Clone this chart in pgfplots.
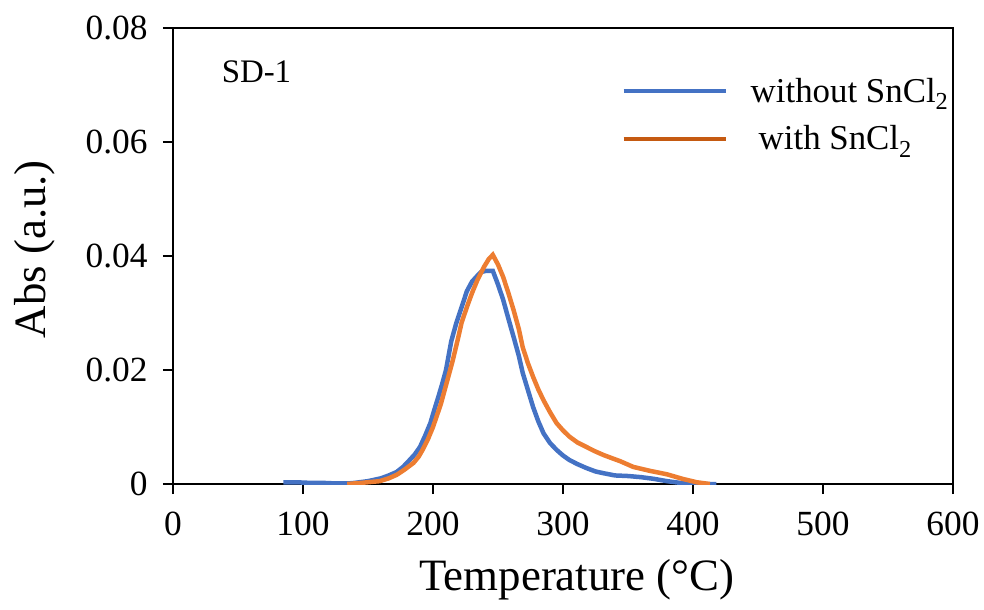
\documentclass[border=0pt]{standalone}
\usepackage{pgfplots}
\pgfplotsset{compat=1.18}
\usepackage{fontspec}
\setmainfont{Liberation Serif}
\definecolor{cblue}{HTML}{4472C4}
\definecolor{corange}{HTML}{ED7D31}
\definecolor{corangeleg}{HTML}{C55A11}
\begin{document}
\begin{tikzpicture}[x=1bp,y=1bp]
\begin{axis}[
  at={(0,0)}, anchor=south west,
  scale only axis, width=780bp, height=456bp,
  xmin=0, xmax=600, ymin=0, ymax=0.08,
  scaled y ticks=false, scaled x ticks=false,
  xtick={0,100,...,600},
  xticklabels={0,100,200,300,400,500,600},
  ytick={0,0.02,0.04,0.06,0.08},
  yticklabels={0,0.02,0.04,0.06,0.08},
  tick align=outside, major tick length=10bp,
  xtick pos=bottom, ytick pos=left,
  tick style={line width=1.6bp, black},
  axis line style={line width=1.6bp},
  ticklabel style={font=\fontsize{35.5}{40}\selectfont},
  yticklabel style={xshift=-12bp},
  xticklabel style={yshift=-14bp},
  xlabel={Temperature (°C)},
  ylabel={Abs (a.u.)},
  label style={font=\fontsize{45}{52}\selectfont},
  xlabel style={at={(axis description cs:0.518,-0.211)}, anchor=center},
  ylabel style={at={(axis description cs:-0.177,0.515)}, anchor=center},
  legend style={draw=none, fill=none, at={(rel axis cs:0.575,0.895)}, anchor=north west,
    font=\fontsize{35}{40}\selectfont, row sep=18bp, inner sep=0pt},
  legend cell align=left,
]
\addplot[cblue, line width=4.5bp, forget plot] coordinates {
(85,0.0003)(95,0.0003)(105,0.0002)(115,0.0002)(125,0.0001)(135,0.0001)(140,0.0002)
(150,0.0005)(160,0.001)(166,0.0015)(172,0.0021)(177,0.003)(182,0.0042)(186,0.0052)
(190,0.0065)(194,0.0085)(198,0.0107)(201,0.0130)(204,0.0152)(207,0.0175)(210,0.0200)
(214,0.0250)(218,0.0283)(222,0.0310)(226,0.0338)(230,0.0355)(234,0.0365)(237,0.0372)
(241,0.0374)(246,0.0374)(250,0.0350)(254,0.0323)(258,0.0290)(262,0.0258)(266,0.0225)
(269,0.0195)(273,0.0165)(277,0.0135)(281,0.0110)(285,0.0089)(290,0.0072)(295,0.0060)
(300,0.0050)(305,0.0042)(311,0.0035)(318,0.0028)(325,0.0022)(331,0.0019)(340,0.0015)
(350,0.0014)(360,0.0012)(370,0.0009)(380,0.0005)(390,0.0002)(400,0.0001)(410,0)(418,0)
};
\addplot[corange, line width=4.5bp, forget plot] coordinates {
(134,0)(145,0.0002)(159,0.0005)(166,0.001)(172,0.0016)(178,0.0025)(185,0.0037)
(189,0.0048)(192,0.006)(196,0.0078)(200,0.0100)(203,0.0120)(206,0.0140)(209,0.0165)
(212,0.0190)(215,0.0215)(219,0.0253)(222,0.0283)(226,0.0310)(230,0.0335)(234,0.0357)
(239,0.0380)(243,0.0395)(246,0.0402)(250,0.0385)(254,0.0363)(258,0.0335)(262,0.0305)
(266,0.0272)(269,0.0240)(273,0.0212)(277,0.0188)(281,0.0166)(285,0.0147)(290,0.0126)
(295,0.0107)(300,0.0094)(305,0.0083)(311,0.0073)(318,0.0065)(324,0.0058)(331,0.0051)
(338,0.0045)(344,0.0040)(354,0.0030)(367,0.0023)(380,0.0017)(392,0.0009)(403,0.0003)(413,0)
};
\addlegendimage{legend image code/.code={\draw[cblue, line width=4bp] (0bp,0bp) -- (102bp,0bp);}}
\addlegendentry{\hspace{21bp}without SnCl\textsubscript{2}}
\addlegendimage{legend image code/.code={\draw[corangeleg, line width=4bp] (0bp,0bp) -- (102bp,0bp);}}
\addlegendentry{\hspace{29bp}with SnCl\textsubscript{2}}
\node[anchor=west, font=\fontsize{33}{38}\selectfont] at (rel axis cs:0.058,0.904) {SD-1};
\end{axis}
\pgfresetboundingbox
\path[use as bounding box] (-173bp,-126bp) rectangle (811bp,484bp);
\end{tikzpicture}
\end{document}
